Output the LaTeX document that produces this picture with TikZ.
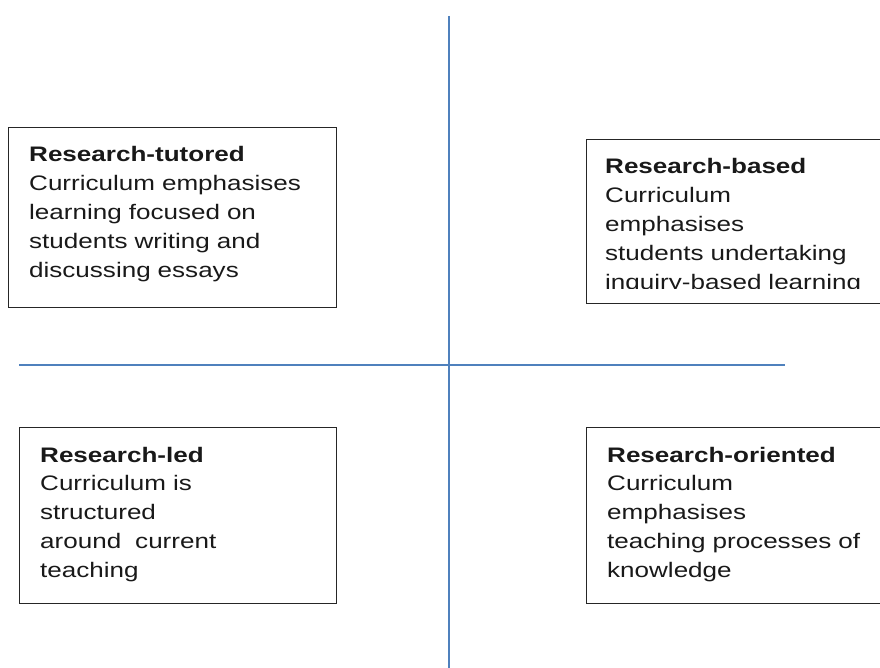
\documentclass[tikz,border=0pt]{standalone}
\usepackage{fontspec}
\setmainfont{Liberation Sans}[FakeStretch=1.24]
\usetikzlibrary{positioning}
\definecolor{axisblue}{RGB}{79,129,189}
\tikzset{
  quad/.style={draw=black!85, line width=1.3pt, rectangle, inner sep=0pt, anchor=north west},
  quadtext/.style={anchor=base west, inner sep=0pt, align=left, text width=300pt,
    text=black!90, font=\fontsize{21}{28.8}\selectfont},
  axisline/.style={axisblue, line width=2pt}
}

\begin{document}
\begin{tikzpicture}[x=1pt, y=-1pt]
    \useasboundingbox (0,0) rectangle (880,668);
    \clip (0,0) rectangle (880,668);

    % axes
    \coordinate (top) at (449,16);
    \coordinate (bottom) at (449,668);
    \coordinate (left) at (19,365);
    \coordinate (right) at (785,365);
    \draw[axisline] (top) -- (bottom);
    \draw[axisline] (left) -- (right);

    % boxes
    \node[quad, minimum width=328pt, minimum height=180pt] (tutored) at (8,127) {};
    \node[quad, minimum width=310pt, minimum height=164pt] (based) at (586,139) {};
    \node[quad, minimum width=317pt, minimum height=176pt] (led) at (19,427) {};
    \node[quad, minimum width=310pt, minimum height=176pt] (oriented) at (586,427) {};

    % box texts
    \node[quadtext] (tutoredtext) at ([shift={(21,35)}]tutored.north west)
        {\textbf{Research-tutored}\\Curriculum emphasises\\learning focused on\\students writing and\\discussing essays};
    \begin{scope}
        \clip (586,139) rectangle (880,288);
        \node[quadtext] (basedtext) at ([shift={(19,35)}]based.north west)
            {\textbf{Research-based}\\Curriculum\\emphasises\\students undertaking\\inquiry-based learning};
    \end{scope}
    \node[quadtext] (ledtext) at ([shift={(21,35)}]led.north west)
        {\textbf{Research-led}\\Curriculum is\\structured\\around\ \ current\\teaching};
    \node[quadtext] (orientedtext) at ([shift={(21,35)}]oriented.north west)
        {\textbf{Research-oriented}\\Curriculum\\emphasises\\teaching processes of\\knowledge};
\end{tikzpicture}
\end{document}
